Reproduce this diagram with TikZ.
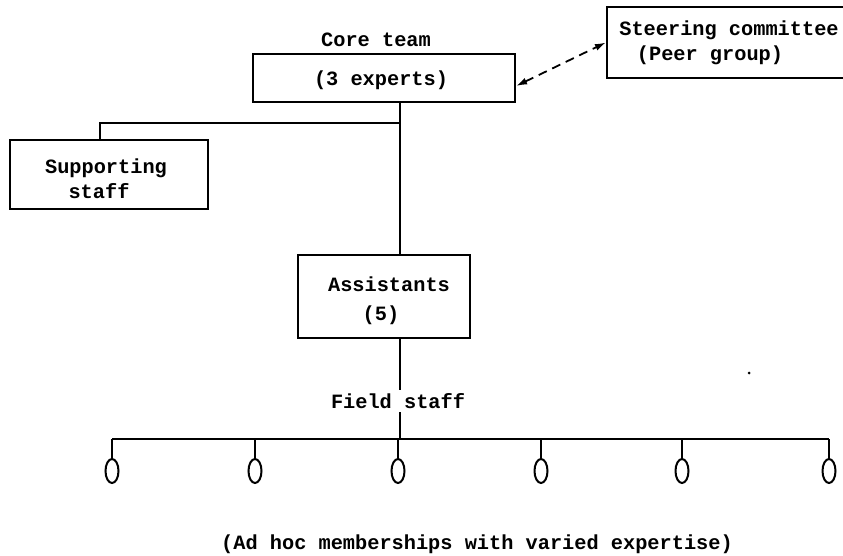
\documentclass[tikz,border=0pt]{standalone}
\usepackage{fontspec}
\setmonofont{Liberation Mono}
\usetikzlibrary{arrows.meta,calc,shapes.geometric}
\begin{document}
\begin{tikzpicture}[x=1pt,y=-1pt,
  txt/.style={font=\ttfamily\bfseries\fontsize{20.3}{24}\selectfont, inner sep=0pt, anchor=center},
  boxnode/.style={draw, line width=2.2pt, inner sep=0pt},
  conn/.style={line width=1.8pt},
  member/.style={draw, line width=2pt, ellipse, minimum width=13pt, minimum height=24pt, inner sep=0pt}]
\clip (0,0) rectangle (843,556);
\fill[white] (0,0) rectangle (843,556);
% boxes
\node[boxnode, minimum width=262pt, minimum height=48pt] (core) at (384,78) {};
\node[boxnode, minimum width=262pt, minimum height=71pt] (steer) at (738,42.5) {};
\node[boxnode, minimum width=198pt, minimum height=69pt] (supp) at (109,174.5) {};
\node[boxnode, minimum width=172pt, minimum height=83pt] (asst) at (384,296.5) {};
% texts
\node[txt] (coretitle) at (376,40) {Core team};
\node[txt] (coretext) at (381,80) {(3 experts)};
\node[txt] (steer1) at (729,30) {Steering committee};
\node[txt] (steer2) at (710,55) {(Peer group)};
\node[txt] (supp1) at (106,168) {Supporting};
\node[txt] (supp2) at (99,191) {staff};
\node[txt] (asst1) at (389,284) {Assistants};
\node[txt] (asst2) at (381,315) {(5)};
\node[txt, minimum height=22pt] (field) at (398,401) {Field staff};
\node[txt, anchor=base] (adhoc) at (477,549) {(Ad hoc memberships with varied expertise)};
% connectors
\coordinate (cb) at (core.south -| 400,0);
\coordinate (br) at (400,123);
\coordinate (sb) at (supp.north -| 100,0);
\coordinate (at) at (asst.north -| 400,0);
\coordinate (ab) at (asst.south -| 400,0);
\coordinate (fn) at (field.north -| 400,0);
\coordinate (fs) at (field.south -| 400,0);
\coordinate (bar) at (400,439);
\draw[conn] (cb) -- (at);
\draw[conn] (br) -- (100,123) -- (sb);
\draw[conn] (ab) -- (fn);
\draw[conn] (fs) -- (bar);
\draw[conn] (112,439) -- (829,439);
\foreach \i/\x in {1/112,2/255,3/398,4/541,5/682,6/829}{
  \node[member] (m\i) at (\x,471) {};
  \draw[conn] (\x,439) -- (m\i.north);
}
\draw[line width=1.8pt, dash pattern=on 9pt off 6pt, {Latex[length=11pt,width=7pt]}-{Latex[length=11pt,width=7pt]}]
  ([yshift=-8pt]core.east) -- ([yshift=0pt]steer.west);
\fill (749,373) circle (1.5pt);
\end{tikzpicture}
\end{document}
